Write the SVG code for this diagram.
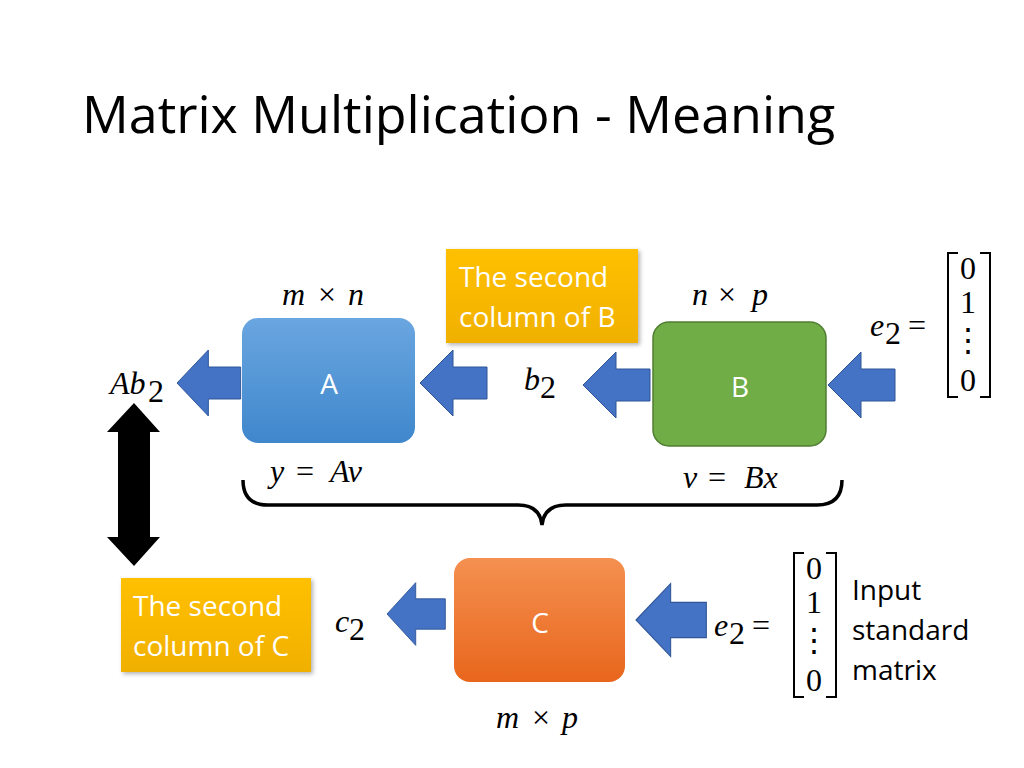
<svg xmlns="http://www.w3.org/2000/svg" width="1024" height="768" viewBox="0 0 1024 768">
<defs>
<style>
.t{font-family:"Open Sans","Liberation Sans",sans-serif}
.m{font-family:"Liberation Serif",serif;font-style:italic;font-size:32px;fill:#000}
.n{font-family:"Liberation Serif",serif;font-size:32px;fill:#000}
.bt{font-family:"Open Sans","Liberation Sans",sans-serif;font-size:28px;fill:#fff}
.arr{fill:#4472c4;stroke:#2f5597;stroke-width:1}
</style>
<linearGradient id="ga" x1="0" y1="0" x2="0" y2="1"><stop offset="0" stop-color="#6aa6e0"/><stop offset="1" stop-color="#3f87cc"/></linearGradient>
<linearGradient id="gc" x1="0" y1="0" x2="0" y2="1"><stop offset="0" stop-color="#f59050"/><stop offset="1" stop-color="#e8661c"/></linearGradient>
<linearGradient id="gy" x1="0" y1="0" x2="0" y2="1"><stop offset="0" stop-color="#ffc000"/><stop offset="1" stop-color="#f0b000"/></linearGradient>
<path id="ar" d="M0,0 L33,-33 L33,-16 L67,-16 L67,16 L33,16 L33,33 Z"/>
</defs>
<rect width="1024" height="768" fill="#fff"/>
<text x="82" y="133" class="t" font-size="52" fill="#000">Matrix Multiplication - Meaning</text>
<g id="A"><rect x="242" y="318" width="173" height="125" rx="16" fill="url(#ga)"/><text x="329" y="394" class="bt" text-anchor="middle">A</text></g>
<g id="B"><rect x="653" y="322" width="173" height="124" rx="16" fill="#70ad47" stroke="#507e32" stroke-width="1.5"/><text x="740" y="397" class="bt" text-anchor="middle">B</text></g>
<g id="C"><rect x="454" y="558" width="171" height="124" rx="16" fill="url(#gc)"/><text x="540" y="633" class="bt" text-anchor="middle">C</text></g>
<g id="noteB"><rect x="446" y="249" width="192" height="94" fill="url(#gy)" filter="drop-shadow(2px 2px 2px rgba(0,0,0,0.3))"/><text x="459" y="287" class="bt">The second</text><text x="459" y="327" class="bt">column of B</text></g>
<g id="noteC"><rect x="121" y="578" width="190" height="94" fill="url(#gy)" filter="drop-shadow(2px 2px 2px rgba(0,0,0,0.3))"/><text x="133" y="616" class="bt">The second</text><text x="133" y="656" class="bt">column of C</text></g>
<g id="connectors">
<use href="#ar" class="arr" transform="translate(177,383) scale(0.95,1)"/>
<use href="#ar" class="arr" transform="translate(420,383)"/>
<use href="#ar" class="arr" transform="translate(583,385)"/>
<use href="#ar" class="arr" transform="translate(828,385)"/>
<use href="#ar" class="arr" transform="translate(387,614) scale(0.87,0.95)"/>
<use href="#ar" class="arr" transform="translate(636,620) scale(1.05,1.1)"/>
<path d="M134,403 L160,432 L150,432 L150,537 L160,537 L134,566 L107,537 L118,537 L118,432 L107,432 Z" fill="#000"/>
<path d="M243,480 Q243,505 268,505 L518,505 Q540,505 542,525 Q544,505 566,505 L817,505 Q842,505 842,480" fill="none" stroke="#000" stroke-width="3.5"/>
</g>
<g id="labels">
<text x="282" y="305" class="m">m</text><text x="318" y="305" class="n">×</text><text x="348" y="305" class="m">n</text>
<text x="692" y="305" class="m">n</text><text x="718" y="305" class="n">×</text><text x="752" y="305" class="m">p</text>
<text x="496" y="728" class="m">m</text><text x="532" y="728" class="n">×</text><text x="562" y="728" class="m">p</text>
<text x="110" y="394" class="m">Ab</text><text x="148" y="402" class="n" font-size="22">2</text>
<text x="524" y="390" class="m">b</text><text x="540" y="398" class="n" font-size="22">2</text>
<text x="335" y="632" class="m">c</text><text x="349" y="640" class="n" font-size="22">2</text>
<text x="270" y="482" class="m">y</text><text x="296" y="482" class="n">=</text><text x="330" y="482" class="m">Av</text>
<text x="683" y="488" class="m">v</text><text x="708" y="488" class="n">=</text><text x="744" y="488" class="m">Bx</text>
<text x="870" y="336" class="m">e</text><text x="885" y="344" class="n" font-size="22">2</text><text x="908" y="336" class="n">=</text>
<path d="M958,253 H948 V397 H958 M980,253 H990 V397 H980" fill="none" stroke="#000" stroke-width="2"/>
<text x="968" y="279" class="n" font-size="28" text-anchor="middle">0</text>
<text x="968" y="313" class="n" font-size="28" text-anchor="middle">1</text>
<text x="968" y="351" class="n" font-size="28" text-anchor="middle">⋮</text>
<text x="968" y="391" class="n" font-size="28" text-anchor="middle">0</text>
<text x="714" y="636" class="m">e</text><text x="729" y="644" class="n" font-size="22">2</text><text x="752" y="636" class="n">=</text>
<path d="M804,553 H794 V697 H804 M826,553 H836 V697 H826" fill="none" stroke="#000" stroke-width="2"/>
<text x="814" y="579" class="n" font-size="28" text-anchor="middle">0</text>
<text x="814" y="613" class="n" font-size="28" text-anchor="middle">1</text>
<text x="814" y="651" class="n" font-size="28" text-anchor="middle">⋮</text>
<text x="814" y="691" class="n" font-size="28" text-anchor="middle">0</text>
<text x="852" y="600" class="t" font-size="28" fill="#000">Input</text>
<text x="852" y="640" class="t" font-size="28" fill="#000">standard</text>
<text x="852" y="680" class="t" font-size="28" fill="#000">matrix</text>
</g>
</svg>
